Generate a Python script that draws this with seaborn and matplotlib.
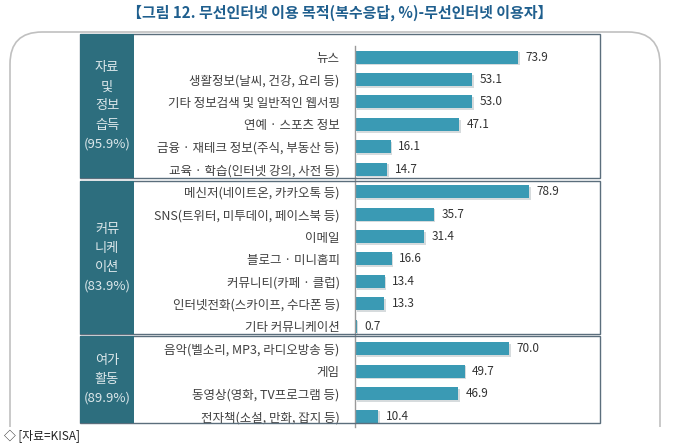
import numpy as np
import pandas as pd
import matplotlib
matplotlib.use("Agg")
import matplotlib.pyplot as plt
import matplotlib.patheffects as pe
from matplotlib.patches import Rectangle, PathPatch
from matplotlib.path import Path
import seaborn as sns

# data
info_items = ["뉴스", "생활정보(날씨, 건강, 요리 등)", "기타 정보검색 및 일반적인 웹서핑",
              "연예 · 스포츠 정보", "금융 · 재테크 정보(주식, 부동산 등)", "교육 · 학습(인터넷 강의, 사전 등)"]
info_values = [73.9, 53.1, 53.0, 47.1, 16.1, 14.7]

comm_items = ["메신저(네이트온, 카카오톡 등)", "SNS(트위터, 미투데이, 페이스북 등)", "이메일",
              "블로그 · 미니홈피", "커뮤니티(카페 · 클럽)", "인터넷전화(스카이프, 수다폰 등)", "기타 커뮤니케이션"]
comm_values = [78.9, 35.7, 31.4, 16.6, 13.4, 13.3, 0.7]

leisure_items = ["음악(벨소리, MP3, 라디오방송 등)", "게임", "동영상(영화, TV프로그램 등)", "전자책(소설, 만화, 잡지 등)"]
leisure_values = [70.0, 49.7, 46.9, 10.4]

group_labels = ["자료\n및\n정보\n습득\n(95.9%)", "커뮤\n니케\n이션\n(83.9%)", "여가\n활동\n(89.9%)"]

title = "【그림 12. 무선인터넷 이용 목적(복수응답, %)-무선인터넷 이용자】"
source = "◇ [자료=KISA]"

df = pd.DataFrame({
    "item": info_items + comm_items + leisure_items,
    "value": info_values + comm_values + leisure_values,
})

sns.set_style("white")
plt.rcParams["font.family"] = ["Noto Sans CJK KR", "DejaVu Sans"]

W, H = 680, 447
fig = plt.figure(figsize=(6.8, 4.47), dpi=100)


def fx(px):
    return px / W


def fy(py):
    return 1 - py / H


# bar axes: x from 355 to 600 px, y from 45.8 to 427.3 px
ax = fig.add_axes([fx(355), fy(427.3), fx(600) - fx(355), (427.3 - 45.8) / H])
ax.set_facecolor("none")
sns.barplot(data=df, x="value", y="item", color="#3a9ab4", width=0.58,
            saturation=1, ax=ax, orient="h")
ax.set_xlim(0, 245 / 2.206)
ax.set_ylim(len(df) - 0.5, -0.5)
for bar in ax.patches:
    bar.set_path_effects([pe.SimplePatchShadow(offset=(1.2, -1.2), shadow_rgbFace="#8a9aa0", alpha=0.35),
                          pe.Normal()])
    bar.set_edgecolor("none")

for i, v in enumerate(df["value"]):
    ax.text(v + 3.4, i, f"{v:.1f}", va="center", ha="left", fontsize=8.5, color="#333333")

ax.set_xlabel("")
ax.set_ylabel("")
ax.set_xticks([])
ax.tick_params(axis="y", length=0, pad=11, labelsize=9, labelcolor="#404040")
for s in ["top", "right", "bottom"]:
    ax.spines[s].set_visible(False)
ax.spines["left"].set_color("#999999")
ax.spines["left"].set_linewidth(1)

# group boxes (top, bottom in px)
boxes = [(34, 178), (181, 334), (336, 423)]
for (top, bot), lab in zip(boxes, group_labels):
    fig.patches.append(Rectangle((fx(80), fy(bot)), fx(600) - fx(80), (bot - top) / H,
                                 transform=fig.transFigure, facecolor="none",
                                 edgecolor="#5b6e7c", linewidth=1, zorder=0))
    fig.patches.append(Rectangle((fx(80), fy(bot)), fx(134) - fx(80), (bot - top) / H,
                                 transform=fig.transFigure, facecolor="#2d6e7e",
                                 edgecolor="none", zorder=1))
    fig.text(fx(107), fy((top + bot) / 2), lab, ha="center", va="center",
             color="#dde8eb", fontsize=9.5, linespacing=1.6)

# outer rounded frame, open at the bottom
r = 32
x0, x1, y0, y1 = 10, 660, 32, 427
verts = [(x0, y1), (x0, y0 + r), (x0, y0), (x0 + r, y0), (x1 - r, y0), (x1, y0), (x1, y0 + r), (x1, y1)]
codes = [Path.MOVETO, Path.LINETO, Path.CURVE3, Path.CURVE3, Path.LINETO, Path.CURVE3, Path.CURVE3, Path.LINETO]
frame = Path([(fx(a), fy(b)) for a, b in verts], codes)
fig.patches.append(PathPatch(frame, transform=fig.transFigure, facecolor="none",
                             edgecolor="#c0c0c0", linewidth=1.2, zorder=0))

fig.text(0.5, fy(13), title, ha="center", va="center", fontsize=10.8,
         fontweight="bold", color="#1f5f8e")
fig.text(fx(4), fy(436), source, ha="left", va="center", fontsize=8.5, color="#222222")

fig.savefig("out.png", dpi=100)
